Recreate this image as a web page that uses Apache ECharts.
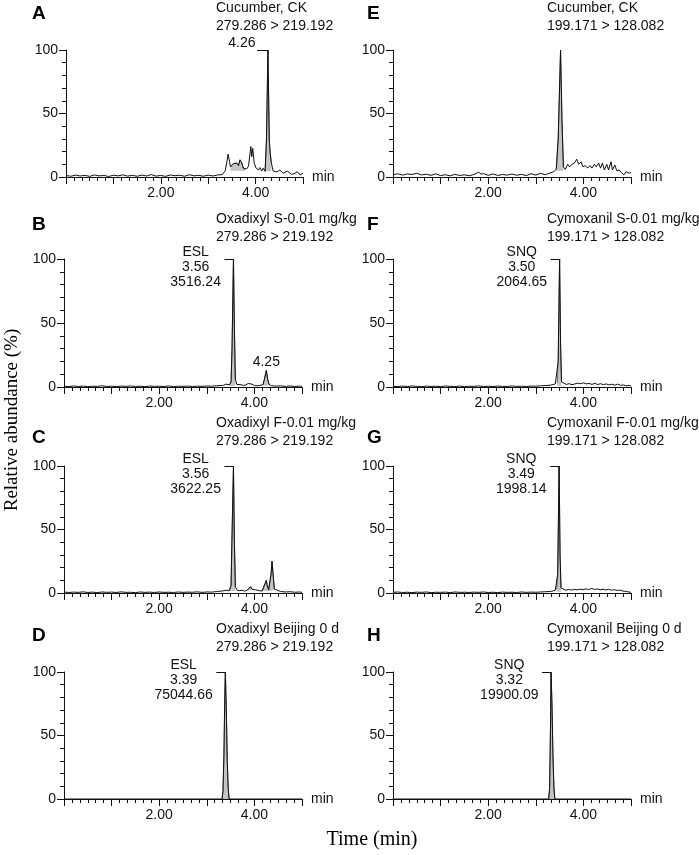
<!DOCTYPE html>
<html>
<head>
<meta charset="utf-8">
<style>
  html, body { margin: 0; padding: 0; background: #fff; }
  #main { width: 699px; height: 855px; }
</style>
</head>
<body>
<div id="main"></div>
<script src="https://cdn.jsdelivr.net/npm/echarts@6/dist/echarts.min.js"></script>
<script>
// chromatogram traces, [time (min), relative abundance (%)]
var traceA = [[0,1.2],[0.1,0.6],[0.2,1.5],[0.3,0.8],[0.4,1.3],[0.5,0.5],[0.6,1.6],[0.7,0.9],[0.8,1.2],[0.9,0.4],[1.0,1.4],[1.1,0.9],[1.2,1.7],[1.3,0.7],[1.4,1.3],[1.5,0.6],[1.6,1.5],[1.7,0.8],[1.8,1.9],[1.9,0.7],[2.0,1.2],[2.1,0.5],[2.2,1.6],[2.3,1.0],[2.4,1.4],[2.5,0.6],[2.6,1.8],[2.7,0.9],[2.8,1.3],[2.9,0.6],[3.0,1.5],[3.1,0.8],[3.2,1.6],[3.3,1.9],
  [3.36,5],[3.39,11],[3.42,18],[3.45,12],[3.47,8],[3.53,10.5],[3.57,9.5],[3.6,11],[3.64,9],[3.67,13.5],[3.71,11],[3.74,7],[3.78,5.5],[3.81,6.3],[3.85,8.5],[3.9,24],[3.92,16],[3.94,22.5],[3.97,11],[4.01,7],[4.06,5.5],[4.09,7.4],[4.13,4.7],[4.16,7],[4.2,4.5],[4.23,30],[4.26,100],[4.29,28],[4.31,18],[4.33,12],[4.35,8],[4.37,4.7],[4.45,4],[4.51,5.5],[4.58,2.9],[4.67,4.7],[4.76,2],[4.83,2.9],[4.88,4.2],[4.94,1.6],[5.0,3]];
var traceB = [[0,0.6],[0.1,0.3],[0.2,0.8],[0.3,0.4],[0.4,0.7],[0.5,0.3],[0.6,0.6],[0.7,0.5],[0.8,0.9],[0.9,0.4],[1.0,0.6],[1.1,0.3],[1.2,0.7],[1.3,0.5],[1.4,0.8],[1.5,0.4],[1.6,0.6],[1.7,0.3],[1.8,0.7],[1.9,0.5],[2.0,0.6],[2.1,0.4],[2.2,0.8],[2.3,0.3],[2.4,0.6],[2.5,0.5],[2.6,0.7],[2.7,0.4],[2.8,0.6],[2.9,0.5],[3.0,0.8],[3.1,0.6],[3.2,0.9],[3.3,1.2],
  [3.35,1.3],[3.4,2.2],[3.44,1.6],[3.48,1.8],[3.51,4],[3.53,30],[3.56,100],[3.58,45],[3.6,6],[3.63,2],[3.67,1.5],[3.72,1.8],[3.77,1.2],[3.82,1.6],[3.87,2.8],[3.91,3.2],[3.95,2.2],[4.0,1.2],[4.06,1.0],[4.12,1.3],[4.18,1.8],[4.21,6],[4.25,13],[4.28,6],[4.31,1.8],[4.36,1.0],[4.45,0.7],[4.55,0.9],[4.65,0.5],[4.75,0.8],[4.85,0.4],[4.95,0.7],[5.0,0.5]];
var traceC = [[0,0.8],[0.1,0.4],[0.2,0.7],[0.3,0.5],[0.4,0.9],[0.5,0.4],[0.6,0.7],[0.7,0.3],[0.8,0.8],[0.9,0.5],[1.0,0.7],[1.1,0.4],[1.2,0.9],[1.3,0.5],[1.4,0.6],[1.5,0.3],[1.6,0.8],[1.7,0.5],[1.8,0.7],[1.9,0.4],[2.0,0.8],[2.1,0.5],[2.2,0.6],[2.3,0.4],[2.4,0.8],[2.5,0.5],[2.6,0.7],[2.7,0.6],[2.8,0.9],[2.9,0.5],[3.0,0.8],[3.1,0.7],[3.2,1.1],
  [3.3,1.5],[3.36,1.8],[3.42,2.2],[3.47,1.8],[3.51,6],[3.53,45],[3.56,100],[3.58,40],[3.6,5],[3.64,2],[3.69,1.8],[3.74,2.2],[3.79,1.5],[3.84,2],[3.88,3.5],[3.92,5],[3.95,3],[3.98,2],[4.02,2.5],[4.06,1.5],[4.11,1.8],[4.16,1.5],[4.2,3],[4.23,8],[4.25,10],[4.27,6],[4.3,2.5],[4.33,4],[4.35,15],[4.37,25],[4.39,16],[4.42,3],[4.46,1.5],[4.55,1.2],[4.65,0.8],[4.75,1.0],[4.85,0.6],[4.95,0.8],[5.0,0.5]];
var traceD = [[0,0],[3.32,0],[3.34,6],[3.36,35],[3.38,85],[3.39,100],[3.41,70],[3.43,30],[3.45,8],[3.47,0],[5.0,0]];
var traceE = [[0,1.8],[0.1,2.6],[0.2,1.5],[0.3,2.4],[0.4,2.0],[0.5,2.9],[0.6,1.6],[0.7,2.2],[0.8,1.3],[0.9,2.5],[1.0,1.1],[1.1,1.8],[1.2,0.9],[1.3,2.1],[1.4,1.2],[1.5,1.7],[1.6,1.0],[1.7,2.0],[1.8,3.8],[1.85,2.2],[1.9,2.7],[2.0,1.3],[2.1,2.4],[2.2,1.2],[2.3,2.0],[2.4,1.5],[2.5,2.3],[2.6,1.4],[2.7,2.1],[2.8,1.1],[2.9,2.6],[3.0,1.5],[3.1,2.9],[3.2,1.8],[3.3,3.2],
  [3.38,4.2],[3.43,6],[3.47,30],[3.52,100],[3.55,45],[3.58,8],[3.62,6],[3.67,10],[3.71,8],[3.76,10],[3.81,11],[3.86,14],[3.9,10],[3.95,12],[3.99,8],[4.04,9],[4.09,7],[4.14,9],[4.18,7],[4.23,10],[4.27,8],[4.32,11],[4.36,7],[4.4,11],[4.44,5.5],[4.49,10],[4.53,5.5],[4.58,12],[4.61,5.5],[4.66,9.5],[4.7,5],[4.75,5.5],[4.8,3.4],[4.85,1.6],[4.9,4.2],[4.96,3],[5.0,3.5]];
var traceF = [[0,0.6],[0.1,0.3],[0.2,0.7],[0.3,0.4],[0.4,0.8],[0.5,0.5],[0.6,0.3],[0.7,0.7],[0.8,0.4],[0.9,0.6],[1.0,0.3],[1.1,0.8],[1.2,0.5],[1.3,0.4],[1.4,0.7],[1.5,0.3],[1.6,0.6],[1.7,0.5],[1.8,0.8],[1.9,0.4],[2.0,0.6],[2.1,0.3],[2.2,0.7],[2.3,0.5],[2.4,0.4],[2.5,0.8],[2.6,0.5],[2.7,0.6],[2.8,0.4],[2.9,0.7],[3.0,0.6],[3.1,0.9],[3.2,1.1],[3.3,1.4],
  [3.36,1.9],[3.41,2.4],[3.45,3],[3.47,20],[3.5,100],[3.52,35],[3.54,4],[3.58,2.5],[3.64,2],[3.7,2.6],[3.76,1.8],[3.82,2.4],[3.88,3],[3.94,2.6],[4.0,3.2],[4.06,2.4],[4.12,2.8],[4.18,2],[4.24,2.9],[4.3,1.9],[4.36,2.6],[4.42,1.8],[4.48,2.4],[4.54,1.6],[4.6,2.2],[4.66,1.4],[4.72,2.3],[4.78,1.3],[4.84,1.6],[4.9,0.9],[4.96,1.2],[5.0,0.8]];
var traceG = [[0,0.5],[0.1,0.8],[0.2,0.4],[0.3,0.6],[0.4,0.3],[0.5,0.7],[0.6,0.5],[0.7,0.8],[0.8,0.3],[0.9,0.6],[1.0,0.5],[1.1,0.7],[1.2,0.3],[1.3,0.8],[1.4,0.5],[1.5,0.6],[1.6,0.4],[1.7,0.7],[1.8,0.5],[1.9,0.8],[2.0,0.4],[2.1,0.6],[2.2,0.3],[2.3,0.7],[2.4,0.5],[2.5,0.6],[2.6,0.4],[2.7,0.8],[2.8,0.5],[2.9,0.7],[3.0,0.6],[3.1,0.8],[3.2,1.0],
  [3.3,1.2],[3.36,1.6],[3.41,2.2],[3.44,2.8],[3.46,15],[3.49,100],[3.51,30],[3.53,4],[3.57,2.8],[3.63,2.2],[3.69,2.8],[3.75,2.3],[3.81,2.9],[3.87,2.5],[3.93,3],[3.99,2.6],[4.05,3.2],[4.11,2.7],[4.17,3.6],[4.23,2.8],[4.29,3.2],[4.35,2.5],[4.41,3],[4.47,2.4],[4.53,2.9],[4.59,2.2],[4.65,2.6],[4.71,2],[4.77,2.3],[4.83,1.5],[4.89,1.3],[4.95,0.8],[5.0,0.6]];
var traceH = [[0,0],[3.27,0],[3.29,8],[3.31,60],[3.32,100],[3.34,75],[3.36,35],[3.38,10],[3.4,0],[5.0,0]];

var traces = [traceA, traceB, traceC, traceD, traceE, traceF, traceG, traceH];
var panelLetters = ['A', 'B', 'C', 'D', 'E', 'F', 'G', 'H'];
var sampleNames = ['Cucumber, CK', 'Oxadixyl S-0.01 mg/kg', 'Oxadixyl F-0.01 mg/kg', 'Oxadixyl Beijing 0 d',
                   'Cucumber, CK', 'Cymoxanil S-0.01 mg/kg', 'Cymoxanil F-0.01 mg/kg', 'Cymoxanil Beijing 0 d'];
var transitions = ['279.286 > 219.192', '279.286 > 219.192', '279.286 > 219.192', '279.286 > 219.192',
                   '199.171 > 128.082', '199.171 > 128.082', '199.171 > 128.082', '199.171 > 128.082'];
// labelled main peak of each panel
var peakCodes = ['', 'ESL', 'ESL', 'ESL', '', 'SNQ', 'SNQ', 'SNQ'];
var peakTimes = [4.26, 3.56, 3.56, 3.39, null, 3.50, 3.49, 3.32];
var peakAreas = ['', '3516.24', '3622.25', '75044.66', '', '2064.65', '1998.14', '19900.09'];
// extra small peak label in B
var minorPeakB = [4.25, 13];
// integrated (shaded) windows: [start, end, baseline]
var shaded = [
  [[3.47, 3.78, 5], [4.2, 4.33, 4.5]],
  [[3.48, 3.61, 0.8], [4.18, 4.31, 1]],
  [[3.47, 3.61, 1.5], [3.84, 3.95, 1.5], [4.16, 4.42, 1.5]],
  [[3.32, 3.47, 0]],
  [[3.43, 3.58, 5]],
  [[3.45, 3.54, 1]],
  [[3.44, 3.53, 1]],
  [[3.27, 3.4, 0]]
];

var sans = '"Liberation Sans", Arial, sans-serif';
var serif = '"Liberation Serif", "Times New Roman", serif';
var ink = '#111';

var boxes = [
  {left: 66, top: 50, width: 237, height: 127},
  {left: 64, top: 259, width: 238, height: 128},
  {left: 64, top: 466, width: 238, height: 127},
  {left: 64, top: 672, width: 238, height: 127},
  {left: 393, top: 50, width: 238, height: 127},
  {left: 393, top: 259, width: 238, height: 128},
  {left: 393, top: 466, width: 238, height: 127},
  {left: 393, top: 672, width: 238, height: 127}
];
var titleTops = [-1, 210, 414, 620];
var letterTops = [4, 215, 428, 626];

var myChart = echarts.init(document.getElementById('main'));

var grid = [], xAxis = [], yAxis = [], series = [], title = [];

boxes.forEach(function (b, i) {
  var row = i % 4, right = i >= 4;
  grid.push(b);
  xAxis.push({
    gridIndex: i, type: 'value', min: 0, max: 5, interval: 1,
    name: 'min', nameLocation: 'end', nameGap: 9,
    nameTextStyle: {fontSize: 14, color: ink, fontFamily: sans},
    axisLine: {onZero: false, lineStyle: {color: ink, width: 1}},
    axisTick: {show: true, length: 7, lineStyle: {color: ink}},
    minorTick: {show: true, splitNumber: 6, length: 4, lineStyle: {color: ink}},
    axisLabel: {
      margin: 9, fontSize: 14, color: ink, fontFamily: sans,
      formatter: function (v) { return (v === 2 || v === 4) ? v.toFixed(2) : ''; }
    },
    splitLine: {show: false}
  });
  yAxis.push({
    gridIndex: i, type: 'value', min: 0, max: 100, interval: 50,
    axisLine: {show: true, lineStyle: {color: ink, width: 1}},
    axisTick: {show: true, length: 7, lineStyle: {color: ink}},
    minorTick: {show: true, splitNumber: 5, length: 4, lineStyle: {color: ink}},
    axisLabel: {margin: 8, fontSize: 14, color: ink, fontFamily: sans},
    splitLine: {show: false}
  });

  // shaded peak areas
  shaded[i].forEach(function (w) {
    series.push({
      type: 'line', xAxisIndex: i, yAxisIndex: i, symbol: 'none', z: 2,
      data: traces[i].filter(function (p) { return p[0] >= w[0] && p[0] <= w[1]; }),
      lineStyle: {width: 0.8, color: '#555'},
      areaStyle: {color: '#c4c4c4', opacity: 1, origin: w[2]}
    });
  });

  var s = {
    type: 'line', xAxisIndex: i, yAxisIndex: i, symbol: 'none', z: 3,
    data: traces[i],
    lineStyle: {width: 1, color: ink}
  };

  var pt = peakTimes[i];
  if (pt !== null) {
    var lines = peakCodes[i] ? [peakCodes[i], pt.toFixed(2), peakAreas[i]] : [pt.toFixed(2)];
    var lead = lines.length === 1 ? 0.23 : 0.19;
    s.markLine = {
      silent: true, symbol: ['none', 'none'], animation: false,
      lineStyle: {color: ink, width: 1, type: 'solid'},
      label: {show: false},
      data: [[{coord: [pt - lead, 100]}, {coord: [pt, 100]}]]
    };
    var mp = [{
      coord: [pt - lead, 100],
      label: {
        show: true, position: 'left', distance: lines.length === 1 ? 1 : 3,
        offset: lines.length === 1 ? [0, -7] : [0, 8],
        formatter: lines.map(function (t) { return '{c|' + t + '}'; }).join('\n'),
        rich: {c: {align: 'center', fontSize: 14, lineHeight: 15, color: ink, fontFamily: sans}}
      }
    }];
    if (i === 1) {
      mp.push({
        coord: minorPeakB,
        label: {show: true, position: 'top', distance: 1, formatter: minorPeakB[0].toFixed(2),
                fontSize: 14, color: ink, fontFamily: sans}
      });
    }
    s.markPoint = {
      symbol: 'circle', symbolSize: 1, animation: false, silent: true,
      itemStyle: {color: 'rgba(0,0,0,0)'},
      data: mp
    };
  }
  series.push(s);

  title.push({
    text: sampleNames[i] + '\n' + transitions[i],
    left: right ? 547 : 216, top: titleTops[row], padding: 0,
    textStyle: {fontSize: 14, fontWeight: 'normal', color: ink, fontFamily: sans, lineHeight: 18}
  });
  title.push({
    text: panelLetters[i],
    left: right ? 367 : 32, top: letterTops[row], padding: 0,
    textStyle: {fontSize: 19, fontWeight: 'bold', color: '#000', fontFamily: sans, lineHeight: 20}
  });
});

myChart.setOption({
  animation: false,
  title: title,
  grid: grid,
  xAxis: xAxis,
  yAxis: yAxis,
  series: series,
  graphic: [
    {
      type: 'text', x: 12, y: 420, rotation: Math.PI / 2,
      style: {text: 'Relative abundance (%)', fontSize: 19, fontFamily: serif, fill: '#000',
              align: 'center', verticalAlign: 'middle'}
    },
    {
      type: 'text', x: 372, y: 840,
      style: {text: 'Time (min)', fontSize: 20, fontFamily: serif, fill: '#000',
              align: 'center', verticalAlign: 'middle'}
    }
  ]
});
</script>
</body>
</html>
